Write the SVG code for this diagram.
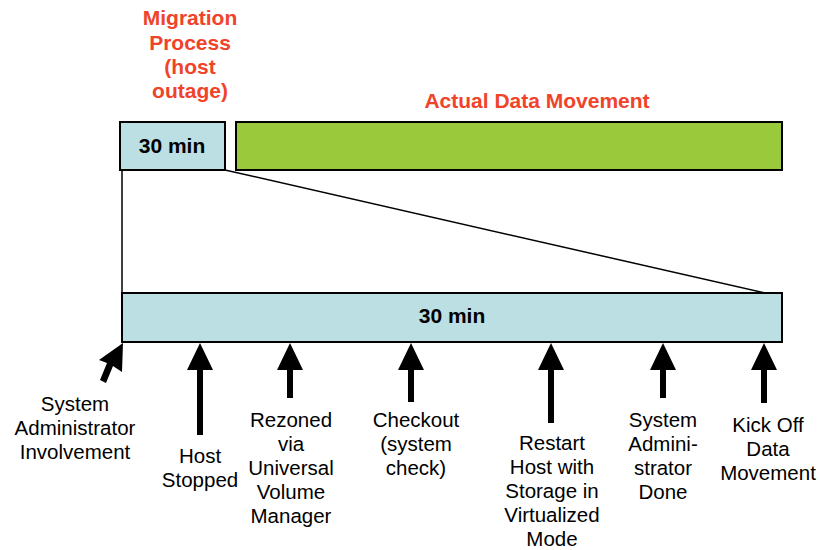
<svg xmlns="http://www.w3.org/2000/svg" width="820" height="550" viewBox="0 0 820 550">
<style>
.t{font-family:"Liberation Sans",Arial,sans-serif;font-size:20.5px;fill:#000;text-anchor:middle}
.b{font-family:"Liberation Sans",Arial,sans-serif;font-size:21px;font-weight:bold;fill:#000;text-anchor:middle}
.r{font-family:"Liberation Sans",Arial,sans-serif;font-size:21px;font-weight:bold;fill:#F0432A;text-anchor:middle}
.box{stroke:#000;stroke-width:2}
.blue{fill:#BBDFE3}
.green{fill:#9ACA3C}
.ln{stroke:#000;stroke-width:1.5;fill:none}
.arr{fill:#000}
</style>
<g id="title-migration">
<text class="r" x="190" y="25">Migration</text>
<text class="r" x="190" y="50">Process</text>
<text class="r" x="190" y="74">(host</text>
<text class="r" x="190" y="98">outage)</text>
</g>
<g id="title-data">
<text class="r" x="537" y="108">Actual Data Movement</text>
</g>
<g id="small-box">
<rect class="box blue" x="120" y="122" width="105" height="48"/>
<text class="b" x="172" y="153">30 min</text>
</g>
<g id="green-box">
<rect class="box green" x="236" y="122" width="546" height="48"/>
</g>
<g id="big-box">
<rect class="box blue" x="122" y="293" width="660" height="49"/>
<text class="b" x="452" y="323">30 min</text>
</g>
<g id="connectors">
<line class="ln" x1="122" y1="170" x2="122" y2="293"/>
<line class="ln" x1="225" y1="170" x2="765" y2="293"/>
<polygon class="arr" points="123,343 122,372 113,366 106,383 100,380 107,363 99,360"/>
<polygon class="arr" points="200,343 213,370 203,370 203,435 197,435 197,370 187,370"/>
<polygon class="arr" points="290,343 303,370 293,370 293,398 287,398 287,370 277,370"/>
<polygon class="arr" points="411,343 424,370 414,370 414,402 408,402 408,370 398,370"/>
<polygon class="arr" points="551,343 564,370 554,370 554,423 548,423 548,370 538,370"/>
<polygon class="arr" points="663,343 676,370 666,370 666,398 660,398 660,370 650,370"/>
<polygon class="arr" points="764,343 777,370 767,370 767,403 761,403 761,370 751,370"/>
</g>
<g id="label-sysadmin">
<text class="t" x="75" y="411">System</text>
<text class="t" x="75" y="435">Administrator</text>
<text class="t" x="75" y="459">Involvement</text>
</g>
<g id="label-host-stopped">
<text class="t" x="200" y="463">Host</text>
<text class="t" x="200" y="487">Stopped</text>
</g>
<g id="label-rezoned">
<text class="t" x="291" y="427">Rezoned</text>
<text class="t" x="291" y="451">via</text>
<text class="t" x="291" y="475">Universal</text>
<text class="t" x="291" y="499">Volume</text>
<text class="t" x="291" y="523">Manager</text>
</g>
<g id="label-checkout">
<text class="t" x="416" y="427">Checkout</text>
<text class="t" x="416" y="451">(system</text>
<text class="t" x="416" y="475">check)</text>
</g>
<g id="label-restart">
<text class="t" x="552" y="450">Restart</text>
<text class="t" x="552" y="474">Host with</text>
<text class="t" x="552" y="498">Storage in</text>
<text class="t" x="552" y="522">Virtualized</text>
<text class="t" x="552" y="546">Mode</text>
</g>
<g id="label-sysadmin-done">
<text class="t" x="663" y="427">System</text>
<text class="t" x="663" y="451">Admini-</text>
<text class="t" x="663" y="475">strator</text>
<text class="t" x="663" y="499">Done</text>
</g>
<g id="label-kickoff">
<text class="t" x="768" y="432">Kick Off</text>
<text class="t" x="768" y="456">Data</text>
<text class="t" x="768" y="480">Movement</text>
</g>
</svg>
